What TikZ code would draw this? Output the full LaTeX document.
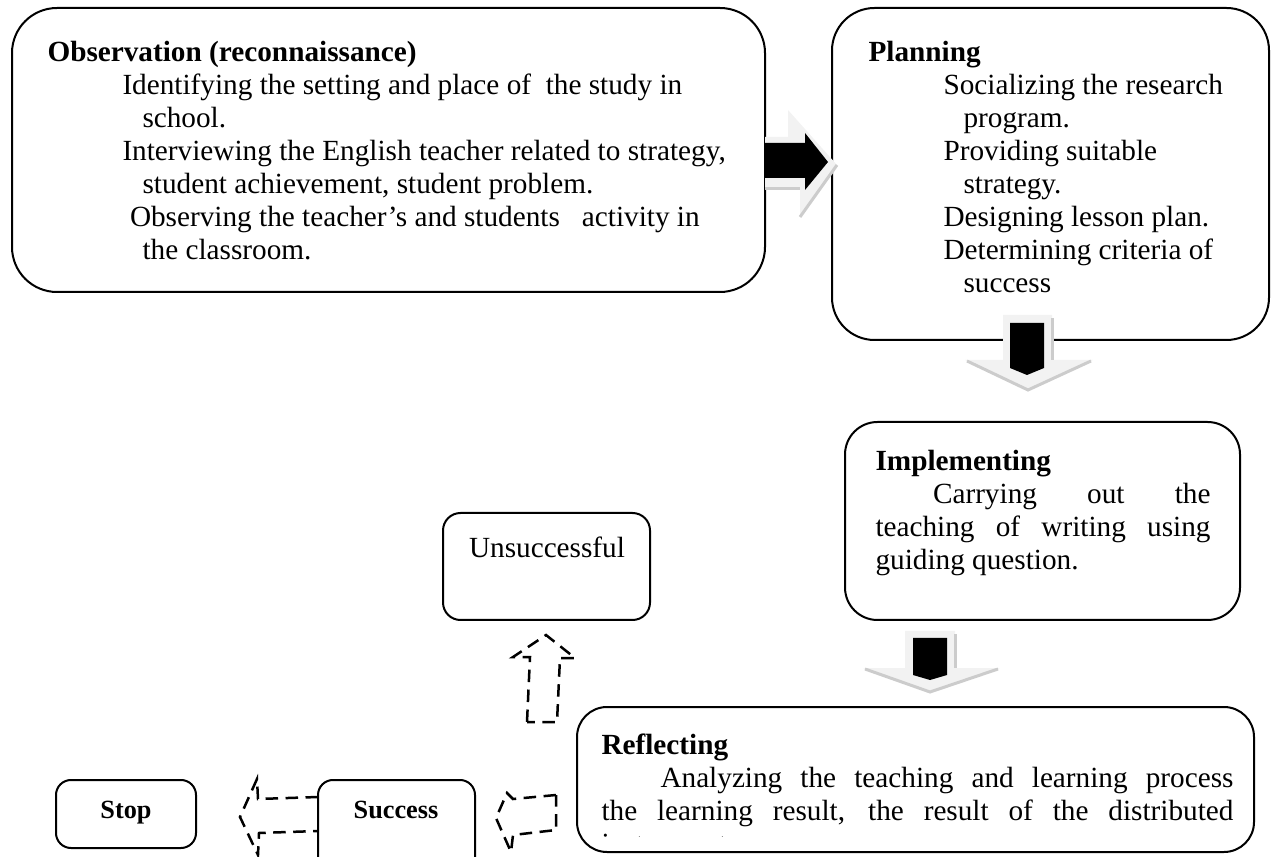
\documentclass[tikz,border=0pt]{standalone}
\usepackage{fontspec}
\setmainfont{Liberation Serif}
\usetikzlibrary{fit}
\newcommand{\stagefont}{\fontsize{11.7}{13.2}\selectfont}
\newcommand{\smallstage}{\fontsize{10.5}{12}\selectfont}

\begin{document}
\begin{tikzpicture}[x=0.4pt, y=-0.4pt,
  stagebox/.style={draw, line width=0.8pt, inner sep=0pt, rounded corners=#1},
  stagebox/.default=14pt,
  stagetext/.style={inner sep=0pt, anchor=north west, align=left, font=\stagefont},
  shell/.style={fill=gray!10},
  shelledge/.style={draw=gray!40, line width=1.2pt},
  dasharrow/.style={draw, line width=1pt, dash pattern=on 5pt off 3pt, line join=miter}]
  \useasboundingbox (0,0) rectangle (1272,857);
  \clip (0,0) rectangle (1272,857);

  % stages
  \node[stagebox=18pt, fit={(12,8) (765,292)}] (obs) {};
  \node[stagebox=17pt, fit={(832,8) (1269,340)}] (plan) {};
  \node[stagebox=13pt, fit={(845,422) (1240,620)}] (impl) {};
  \node[stagebox=7pt, fit={(443,513) (650,620)}] (unsucc) {};
  \node[stagebox=12pt, fit={(577,707) (1254,852)}] (refl) {};
  \node[stagebox=6pt, fit={(56,780) (196,848)}] (stop) {};
  \node[stagebox=6pt, fit={(318,780) (475,890)}] (succ) {};

  \node[stagetext] (obstext) at (47,41) {\textbf{Observation (reconnaissance)}\\
    \hspace*{30pt}Identifying the setting and place of\ \ the study in\\
    \hspace*{38pt}school.\\
    \hspace*{30pt}Interviewing the English teacher related to strategy,\\
    \hspace*{38pt}student achievement, student problem.\\
    \hspace*{33pt}Observing the teacher’s and students\ \ \ activity in\\
    \hspace*{38pt}the classroom.};

  \node[stagetext] (plantext) at (868,41) {\textbf{Planning}\\
    \hspace*{30pt}Socializing the research\\
    \hspace*{38pt}program.\\
    \hspace*{30pt}Providing suitable\\
    \hspace*{38pt}strategy.\\
    \hspace*{30pt}Designing lesson plan.\\
    \hspace*{30pt}Determining criteria of\\
    \hspace*{38pt}success};

  \node[stagetext, text width=134pt, align=justify] (impltext) at (875,450)
    {\textbf{Implementing}\\
    \hspace*{23pt}Carrying out the\linebreak
    teaching of writing using\linebreak
    guiding question.};

  \node[font=\stagefont, inner sep=0pt] (unsucctext) at (547,547) {Unsuccessful};
  \node[font=\smallstage\bfseries, inner sep=0pt] (stoptext) at (126,813) {Stop};
  \node[font=\smallstage\bfseries, inner sep=0pt] (succtext) at (396,810) {Success};

  \begin{scope}
    \clip (577,700) rectangle (1254,836);
    \node[stagetext, text width=252.8pt, align=justify] (refltext) at (601,733)
      {\textbf{Reflecting}\\
      \hspace*{23.6pt}Analyzing the teaching and learning process\linebreak
      the learning result, the result of the distributed\linebreak
      instrument.};
  \end{scope}

  % block arrows
  \fill[shell] (765,137) -- (788,137) -- (788,110) -- (837,165) -- (800,217) -- (800,190) -- (765,190) -- cycle;
  \draw[shelledge] (837,165) -- (800,217);
  \draw[shelledge] (765,189) -- (800,189);
  \fill (765,143) -- (805,143) -- (805,133) -- (828,162) -- (805,190) -- (805,178) -- (765,178) -- cycle;

  \fill[shell] (1003,315) -- (1052,315) -- (1052,360) -- (1093,360) -- (1028,390) -- (965,360) -- (1003,360) -- cycle;
  \draw[shelledge] (1052,318) -- (1052,360);
  \draw[shelledge] (967,361) -- (1028,390) -- (1091,361);
  \fill (1010,323) -- (1044,323) -- (1044,368) -- (1027,375) -- (1010,368) -- cycle;

  \fill[shell] (905,631) -- (955,631) -- (955,668) -- (1000,668) -- (930,692) -- (863,668) -- (905,668) -- cycle;
  \draw[shelledge] (955,634) -- (955,668);
  \draw[shelledge] (865,669) -- (930,692) -- (998,669);
  \fill (913,638) -- (947,638) -- (947,675) -- (930,680) -- (913,675) -- cycle;

  % dashed arrows
  \draw[dasharrow] (527,722) -- (530,657) -- (513,657) -- (546,635) -- (575,658) -- (560,658) -- (557,722) -- cycle;
  \draw[dasharrow] (318,797) -- (258,799) -- (257,779) -- (240,817) -- (258,855) -- (259,833) -- (318,831);
  \draw[dasharrow] (556,795) -- (513,799) -- (507,793) -- (496,818) -- (511,852) -- (513,835) -- (556,830) -- cycle;
\end{tikzpicture}
\end{document}
